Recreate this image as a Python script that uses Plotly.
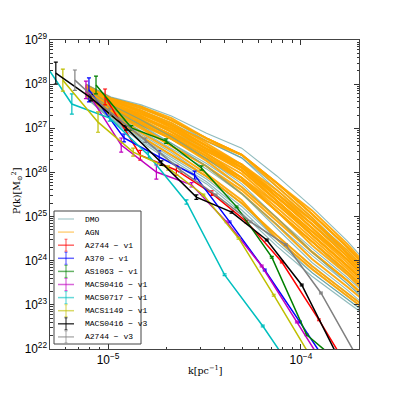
import numpy as np
import plotly.graph_objects as go

# --- simulated halo bundle (log10 P on a shared k grid) ---
bundle_k = [7.68e-6, 1.037e-5, 1.485e-5, 2.13e-5, 3.24e-5, 4.93e-5, 7.50e-5, 1.141e-4, 1.737e-4, 2.64e-4]

dmo_logp = [
    [28.00, 27.71, 27.53, 27.28, 26.89, 26.55, 25.92, 25.22, 24.45, 23.56],
    [27.69, 27.19, 26.69, 26.24, 25.74, 25.08, 24.33, 23.65, 23.06, 22.48],
    [27.72, 27.24, 26.77, 26.34, 25.85, 25.23, 24.49, 23.73, 23.13, 22.54],
    [27.73, 27.27, 26.81, 26.40, 25.91, 25.30, 24.57, 23.88, 23.27, 22.65],
    [27.81, 27.40, 27.03, 26.66, 26.20, 25.67, 24.97, 24.28, 23.62, 22.91],
    [27.91, 27.53, 27.19, 26.81, 26.31, 25.74, 24.97, 24.20, 23.48, 22.75],
    [27.96, 27.64, 27.40, 27.12, 26.71, 26.33, 25.68, 24.98, 24.24, 23.40],
    [27.77, 27.32, 26.86, 26.45, 25.91, 25.30, 24.49, 23.81, 23.20, 22.59],
    [27.84, 27.45, 27.07, 26.66, 26.14, 25.52, 24.73, 23.96, 23.34, 22.65],
    [27.98, 27.68, 27.45, 27.18, 26.71, 26.33, 25.60, 24.91, 24.17, 23.34],
    [27.70, 27.21, 26.73, 26.29, 25.79, 25.15, 24.41, 23.73, 23.13, 22.54],
    [27.88, 27.50, 27.24, 26.92, 26.54, 26.11, 25.52, 24.83, 24.17, 23.34],
    [27.78, 27.35, 26.94, 26.55, 26.08, 25.52, 24.81, 24.12, 23.48, 22.80],
    [27.93, 27.55, 27.28, 26.92, 26.43, 25.88, 25.12, 24.43, 23.69, 22.97],
]

agn_logp = [
    [27.97, 27.66, 27.45, 27.18, 26.77, 26.40, 25.76, 25.06, 24.31, 23.45],
    [27.94, 27.61, 27.40, 27.12, 26.66, 26.18, 25.44, 24.75, 24.03, 23.24],
    [27.91, 27.56, 27.27, 26.98, 26.53, 26.12, 25.45, 24.74, 24.02, 23.25],
    [27.88, 27.50, 27.24, 26.97, 26.54, 26.18, 25.60, 24.91, 24.24, 23.40],
    [27.84, 27.45, 27.11, 26.76, 26.31, 25.81, 25.12, 24.43, 23.75, 23.02],
    [27.81, 27.40, 27.07, 26.76, 26.31, 25.88, 25.28, 24.59, 23.89, 23.19],
    [27.94, 27.58, 27.28, 26.92, 26.43, 25.88, 25.12, 24.43, 23.75, 22.97],
    [27.98, 27.68, 27.49, 27.18, 26.77, 26.40, 25.68, 24.98, 24.17, 23.34],
    [27.90, 27.53, 27.24, 26.92, 26.48, 26.04, 25.36, 24.67, 23.96, 23.19],
    [27.86, 27.48, 27.11, 26.76, 26.26, 25.67, 24.97, 24.20, 23.55, 22.80],
    [27.96, 27.64, 27.36, 27.07, 26.60, 26.11, 25.36, 24.59, 23.89, 23.13],
    [27.83, 27.45, 27.15, 26.86, 26.48, 26.11, 25.44, 24.83, 24.10, 23.29],
    [27.93, 27.58, 27.32, 27.02, 26.60, 26.18, 25.52, 24.83, 24.10, 23.29],
    [27.80, 27.37, 26.99, 26.60, 26.14, 25.60, 24.89, 24.20, 23.55, 22.86],
    [27.87, 27.51, 27.20, 26.85, 26.42, 25.97, 25.29, 24.58, 23.88, 23.12],
    [27.97, 27.66, 27.40, 27.07, 26.60, 26.11, 25.52, 24.91, 24.17, 23.40],
    [27.78, 27.35, 26.90, 26.50, 25.97, 25.37, 24.49, 23.81, 23.20, 22.59],
    [27.91, 27.55, 27.32, 27.07, 26.71, 26.40, 25.76, 25.06, 24.31, 23.50],
    [27.86, 27.48, 27.15, 26.81, 26.37, 25.88, 25.20, 24.51, 23.82, 23.07],
    [27.83, 27.40, 27.03, 26.60, 26.14, 25.52, 24.81, 24.04, 23.41, 22.75],
    [27.94, 27.61, 27.36, 27.02, 26.54, 26.04, 25.36, 24.67, 24.03, 23.24],
    [27.75, 27.29, 26.81, 26.40, 25.91, 25.30, 24.57, 23.88, 23.27, 22.65],
    [27.99, 27.68, 27.49, 27.23, 26.77, 26.40, 25.76, 25.14, 24.38, 23.50],
    [27.90, 27.50, 27.19, 26.81, 26.37, 25.81, 25.12, 24.35, 23.69, 22.91],
]

# --- observed clusters: k, log10 P, error (dex) ---
k_a2744_v1 = [9.65e-6, 1.47e-5, 2.26e-5, 3.44e-5, 5.23e-5, 7.96e-5, 1.24e-4, 1.89e-4]
p_a2744_v1 = [27.71, 26.39, 26.05, 25.53, 24.88, 23.97, 22.66, 21.34]
e_a2744_v1 = [0.18, 0.11, 0.11, 0.05, 0.03, 0.02, 0.02, 0.02]

k_a370_v1 = [7.96e-6, 1.21e-5, 1.84e-5, 2.81e-5, 4.27e-5, 6.49e-5, 9.88e-5, 1.50e-4]
p_a370_v1 = [27.87, 26.78, 26.35, 25.94, 24.88, 23.79, 22.61, 21.41]
e_a370_v1 = [0.27, 0.09, 0.14, 0.09, 0.02, 0.02, 0.02, 0.02]

k_as1063_v1 = [8.66e-6, 1.32e-5, 2.0e-5, 3.05e-5, 4.64e-5, 7.06e-5, 1.07e-4, 1.64e-4]
p_as1063_v1 = [27.98, 27.01, 26.71, 26.10, 25.22, 24.08, 22.32, 21.64]
e_as1063_v1 = [0.20, 0.05, 0.05, 0.05, 0.02, 0.02, 0.02, 0.02]

k_macs0416_v1 = [7.68e-6, 1.17e-5, 1.78e-5, 2.71e-5, 4.12e-5, 6.26e-5, 9.53e-5, 1.45e-4]
p_macs0416_v1 = [27.87, 26.62, 26.01, 25.72, 24.88, 23.88, 22.61, 21.34]
e_macs0416_v1 = [0.20, 0.16, 0.16, 0.05, 0.02, 0.02, 0.02, 0.02]

k_macs0717_v1 = [4.12e-6, 6.49e-6, 1.02e-5, 1.62e-5, 2.55e-5, 4.02e-5, 6.34e-5, 1.0e-4]
p_macs0717_v1 = [28.84, 27.55, 27.23, 26.39, 25.33, 23.68, 22.52, 21.25]
e_macs0717_v1 = [0.07, 0.23, 0.07, 0.07, 0.05, 0.02, 0.02, 0.02]

k_macs1149_v1 = [5.83e-6, 8.87e-6, 1.35e-5, 2.05e-5, 3.12e-5, 4.75e-5, 7.23e-5, 1.10e-4]
p_macs1149_v1 = [28.09, 27.14, 26.46, 26.10, 25.49, 24.51, 23.22, 21.89]
e_macs1149_v1 = [0.25, 0.23, 0.09, 0.05, 0.02, 0.02, 0.02, 0.02]

k_macs0416_v3 = [5.36e-6, 8.15e-6, 1.24e-5, 1.89e-5, 2.87e-5, 4.37e-5, 6.65e-5, 1.01e-4, 1.54e-4]
p_macs0416_v3 = [28.25, 27.69, 27.01, 26.21, 25.44, 25.10, 24.47, 23.45, 21.86]
e_macs0416_v3 = [0.25, 0.07, 0.05, 0.05, 0.05, 0.02, 0.02, 0.02, 0.02]

k_a2744_v3 = [6.73e-6, 1.02e-5, 1.56e-5, 2.37e-5, 3.61e-5, 5.49e-5, 8.35e-5, 1.27e-4, 1.93e-4]
p_a2744_v3 = [28.09, 27.37, 26.73, 26.05, 25.49, 24.88, 24.36, 23.27, 21.86]
e_a2744_v3 = [0.23, 0.07, 0.05, 0.05, 0.02, 0.02, 0.02, 0.02, 0.02]

clusters = [
    ("A2744 − v1", k_a2744_v1, p_a2744_v1, e_a2744_v1, "#ff0000"),
    ("A370 − v1", k_a370_v1, p_a370_v1, e_a370_v1, "#0000ff"),
    ("AS1063 − v1", k_as1063_v1, p_as1063_v1, e_as1063_v1, "#008000"),
    ("MACS0416 − v1", k_macs0416_v1, p_macs0416_v1, e_macs0416_v1, "#bf00bf"),
    ("MACS0717 − v1", k_macs0717_v1, p_macs0717_v1, e_macs0717_v1, "#00bfbf"),
    ("MACS1149 − v1", k_macs1149_v1, p_macs1149_v1, e_macs1149_v1, "#bfbf00"),
    ("MACS0416 − v3", k_macs0416_v3, p_macs0416_v3, e_macs0416_v3, "#000000"),
    ("A2744 − v3", k_a2744_v3, p_a2744_v3, e_a2744_v3, "#808080"),
]

DMO_COL = "rgba(95,158,160,0.7)"
AGN_COL = "rgba(255,165,0,0.92)"

fig = go.Figure()

# most DMO curves under the AGN bundle, a few on top
on_top = [0, 5, 8, 12]
for i, lp in enumerate(dmo_logp):
    if i not in on_top:
        fig.add_trace(go.Scatter(x=bundle_k, y=10 ** np.array(lp), mode="lines",
                                 line=dict(color=DMO_COL, width=1.2), hoverinfo="skip"))
for lp in agn_logp:
    fig.add_trace(go.Scatter(x=bundle_k, y=10 ** np.array(lp), mode="lines",
                             line=dict(color=AGN_COL, width=2), hoverinfo="skip"))
for i in on_top:
    fig.add_trace(go.Scatter(x=bundle_k, y=10 ** np.array(dmo_logp[i]), mode="lines",
                             line=dict(color=DMO_COL, width=1.1), hoverinfo="skip"))

for name, k, lp, err, col in clusters:
    p = 10 ** np.array(lp)
    e = np.array(err)
    fig.add_trace(go.Scatter(
        x=k, y=p, mode="lines", name=name,
        line=dict(color=col, width=1.5),
        error_y=dict(type="data", symmetric=False,
                     array=p * (10 ** e - 1), arrayminus=p * (1 - 10 ** -e),
                     color=col, thickness=1.2, width=2),
    ))

axis_style = dict(
    type="log", dtick=1, ticks="inside", ticklen=5, tickcolor="#333",
    minor=dict(ticks="inside", ticklen=2.5, dtick="D1", tickcolor="#333", showgrid=False),
    showline=True, linecolor="#444", linewidth=1, mirror="ticks",
    showgrid=False, zeroline=False, exponentformat="power",
    tickfont=dict(family="Liberation Sans", size=9.5, color="black"),
)
fig.update_xaxes(range=[np.log10(5e-6), np.log10(2e-4)], **axis_style)
fig.update_yaxes(range=[22, 29], **axis_style)


# pixel -> paper helpers (plot area 50..359 x 40..349 in the reference)
def px(x):
    return (x - 50) / 309


def py(y):
    return (349 - y) / 309


fig.add_annotation(text="P(k)[M<sub>⊙</sub><sup>2</sup>]", xref="paper", yref="paper",
                   x=px(17), y=py(191), textangle=-90, showarrow=False,
                   xanchor="center", yanchor="middle",
                   font=dict(family="DejaVu Serif", size=9.5, color="black"))
fig.add_annotation(text="k[pc<sup>−1</sup>]", xref="paper", yref="paper",
                   x=0.5, y=py(370), showarrow=False, xanchor="center", yanchor="middle",
                   font=dict(family="DejaVu Serif", size=9.5, color="black"))

# compact legend (plotly's own legend rows are too tall for this layout)
legend_names = ["DMO", "AGN"] + [c[0] for c in clusters]
legend_cols = ["rgba(95,158,160,0.45)", "rgba(255,165,0,0.5)"] + [
    "rgba(255,0,0,0.6)", "rgba(0,0,255,0.6)", "rgba(0,128,0,0.6)", "rgba(191,0,191,0.6)",
    "rgba(0,191,191,0.6)", "rgba(191,191,0,0.6)", "rgba(0,0,0,0.75)", "rgba(128,128,128,0.6)"]

shapes = [dict(type="rect", xref="paper", yref="paper", x0=px(54), x1=px(141),
               y0=py(344), y1=py(211), line=dict(color="#444", width=1), fillcolor="white")]
for i, (nm, col) in enumerate(zip(legend_names, legend_cols)):
    yc = 219 + 13.1 * i
    shapes.append(dict(type="line", xref="paper", yref="paper", x0=px(58), x1=px(74),
                       y0=py(yc), y1=py(yc), line=dict(color=col, width=1.5)))
    if i >= 2:
        shapes.append(dict(type="line", xref="paper", yref="paper", x0=px(66), x1=px(66),
                           y0=py(yc - 6), y1=py(yc + 6), line=dict(color=col, width=1.2)))
        for dy in (-6, 6):
            shapes.append(dict(type="line", xref="paper", yref="paper", x0=px(64.5), x1=px(67.5),
                               y0=py(yc + dy), y1=py(yc + dy), line=dict(color=col, width=1)))
    fig.add_annotation(text=nm, xref="paper", yref="paper", x=px(83), y=py(yc),
                       xanchor="left", yanchor="middle", showarrow=False,
                       font=dict(family="Liberation Mono", size=8, color="black"))

fig.update_layout(
    width=391, height=391,
    margin=dict(l=42, r=40, t=32, b=50),
    paper_bgcolor="white", plot_bgcolor="white",
    showlegend=False,
    shapes=shapes,
)

fig.write_html("out.html")
